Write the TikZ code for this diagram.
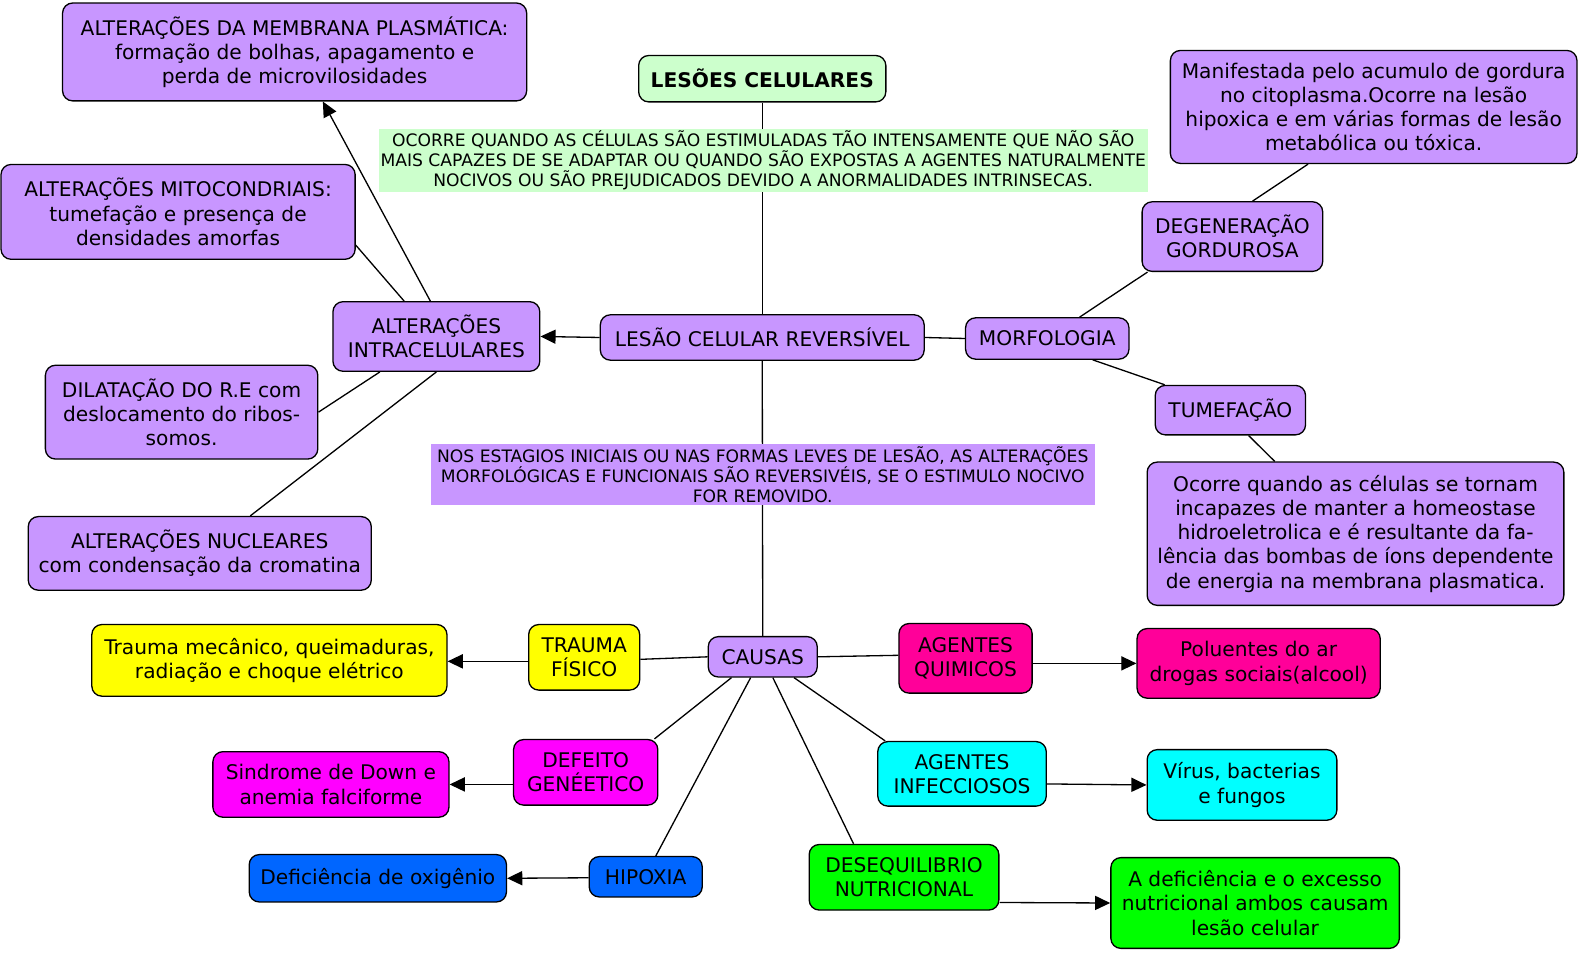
\documentclass[tikz,border=0pt]{standalone}
\usepackage{fontspec}
\setmainfont{DejaVu Sans}
\usepackage{xcolor}
\usepackage{tikz}
\usetikzlibrary{arrows.meta,positioning}

\definecolor{lilas}{HTML}{C896FF}
\definecolor{verdeclaro}{HTML}{CCFFCC}
\definecolor{amarelo}{HTML}{FFFF00}
\definecolor{rosa}{HTML}{FF0099}
\definecolor{magenta}{HTML}{FF00FF}
\definecolor{ciano}{HTML}{00FFFF}
\definecolor{azul}{HTML}{0066FF}
\definecolor{verde}{HTML}{00FF00}
\newcommand{\boxfont}{\fontsize{20}{24}\selectfont}
\newcommand{\notefont}{\fontsize{17}{20}\selectfont}

\begin{document}
\begin{tikzpicture}[x=1pt,y=-1pt,line width=1.3pt,>={Triangle[length=15pt,width=14pt]}]
        \tikzstyle{conc}=[draw=black,line width=1.3pt,rounded corners=10pt,fill=lilas,align=center,inner sep=2pt,font=\boxfont]
        \tikzstyle{nota}=[align=center,inner sep=2pt,font=\notefont]
        \useasboundingbox (0,0) rectangle (1568,944);
        % topo
        \node[conc,fill=verdeclaro,font=\boxfont\bfseries,minimum width=245,minimum height=46] (titulo) at (755.5,78) {LESÕES CELULARES};
        \node[conc,minimum width=321,minimum height=45] (rev) at (755.5,334.5) {LESÃO CELULAR REVERSÍVEL};
        \node[conc,minimum width=108,minimum height=40] (causas) at (756,651) {CAUSAS};
        \draw (titulo.south) -- (rev.north);
        \draw (rev.south) -- (causas.north);
        \node[nota,fill=verdeclaro,minimum width=759,minimum height=62] (nota1) at (756.5,159) {OCORRE QUANDO AS CÉLULAS SÃO ESTIMULADAS TÃO INTENSAMENTE QUE NÃO SÃO\\MAIS CAPAZES DE SE ADAPTAR OU QUANDO SÃO EXPOSTAS A AGENTES NATURALMENTE\\NOCIVOS OU SÃO PREJUDICADOS DEVIDO A ANORMALIDADES INTRINSECAS.};
        \node[nota,fill=lilas,minimum width=658,minimum height=59] (nota2) at (756,470.5) {NOS ESTAGIOS INICIAIS OU NAS FORMAS LEVES DE LESÃO, AS ALTERAÇÕES\\MORFOLÓGICAS E FUNCIONAIS SÃO REVERSIVÉIS, SE O ESTIMULO NOCIVO\\FOR REMOVIDO.};
        % alteracoes
        \node[conc,minimum width=205,minimum height=69] (altintra) at (432.5,333.5) {ALTERAÇÕES\\INTRACELULARES};
        \node[conc,minimum width=460,minimum height=97] (memb) at (292,51.5) {ALTERAÇÕES DA MEMBRANA PLASMÁTICA:\\formação de bolhas, apagamento e\\perda de microvilosidades};
        \node[conc,minimum width=351,minimum height=94] (mito) at (176.5,210) {ALTERAÇÕES MITOCONDRIAIS:\\tumefação e presença de\\densidades amorfas};
        \node[conc,minimum width=270,minimum height=93] (dilat) at (180,408.5) {DILATAÇÃO DO R.E com\\deslocamento do ribos-\\somos.};
        \node[conc,minimum width=340,minimum height=73] (nucl) at (198,548.5) {ALTERAÇÕES NUCLEARES\\com condensação da cromatina};
        % morfologia
        \node[conc,minimum width=162,minimum height=41] (morf) at (1038,335.5) {MORFOLOGIA};
        \node[conc,minimum width=179,minimum height=69] (degord) at (1221.5,234.5) {DEGENERAÇÃO\\GORDUROSA};
        \node[conc,minimum width=403,minimum height=112] (degdesc) at (1361.5,106) {Manifestada pelo acumulo de gordura\\no citoplasma.Ocorre na lesão\\hipoxica e em várias formas de lesão\\metabólica ou tóxica.};
        \node[conc,minimum width=149,minimum height=49] (tumef) at (1219.5,406.5) {TUMEFAÇÃO};
        \node[conc,minimum width=413,minimum height=142] (tumdesc) at (1343.5,529) {Ocorre quando as células se tornam\\incapazes de manter a homeostase\\hidroeletrolica e é resultante da fa-\\lência das bombas de íons dependente\\de energia na membrana plasmatica.};
        % causas
        \node[conc,fill=amarelo,minimum width=110,minimum height=65] (trauma) at (579,651.5) {TRAUMA\\FÍSICO};
        \node[conc,fill=amarelo,minimum width=352,minimum height=71] (traumadesc) at (267,654.5) {Trauma mecânico, queimaduras,\\radiação e choque elétrico};
        \node[conc,fill=rosa,minimum width=132,minimum height=69] (quim) at (957,652.5) {AGENTES\\QUIMICOS};
        \node[conc,fill=rosa,minimum width=241,minimum height=69] (quimdesc) at (1247.5,657.5) {Poluentes do ar\\drogas sociais(alcool)};
        \node[conc,fill=magenta,minimum width=143,minimum height=65] (gen) at (580.5,765.5) {DEFEITO\\GENÉETICO};
        \node[conc,fill=magenta,minimum width=234,minimum height=65] (gendesc) at (328,777.5) {Sindrome de Down e\\anemia falciforme};
        \node[conc,fill=ciano,minimum width=167,minimum height=64] (infec) at (953.5,767) {AGENTES\\INFECCIOSOS};
        \node[conc,fill=ciano,minimum width=188,minimum height=70] (infecdesc) at (1231,778) {Vírus, bacterias\\e fungos};
        \node[conc,fill=azul,minimum width=112,minimum height=40] (hip) at (640,869) {HIPOXIA};
        \node[conc,fill=azul,minimum width=255,minimum height=47] (hipdesc) at (374.5,870.5) {Deficiência de oxigênio};
        \node[conc,fill=verde,minimum width=188,minimum height=65] (nutri) at (896,869.5) {DESEQUILIBRIO\\NUTRICIONAL};
        \node[conc,fill=verde,minimum width=286,minimum height=90] (nutridesc) at (1244,895) {A deficiência e o excesso\\nutricional ambos causam\\lesão celular};
        \path
        (rev.west) edge[->] (altintra.east)
        (rev.east) edge (morf.west)
        ([xshift=-6]altintra.north) edge[->] ([xshift=28]memb.south)
        ([yshift=-33]mito.east) edge ([xshift=-32]altintra.north)
        (dilat.east) edge ([xshift=-56]altintra.south)
        ([xshift=50]nucl.north) edge (altintra.south)
        ([xshift=32]morf.north) edge ([xshift=6]degord.south west)
        ([xshift=20]degord.north) edge ([xshift=-65]degdesc.south)
        ([xshift=45]morf.south) edge ([xshift=10]tumef.north west)
        ([xshift=18]tumef.south) edge ([xshift=-80]tumdesc.north)
        (causas.west) edge ([yshift=-2]trauma.east)
        ([yshift=-4]trauma.west) edge[->] ([yshift=-1]traumadesc.east)
        (causas.east) edge ([yshift=3]quim.west)
        ([yshift=-5]quim.east) edge[->] (quimdesc.west)
        ([xshift=-31]causas.south) edge ([xshift=-4]gen.north east)
        ([yshift=-12]gen.west) edge[->] (gendesc.east)
        ([xshift=-12]causas.south) edge ([xshift=10]hip.north)
        ([yshift=-1]hip.west) edge[->] (hipdesc.east)
        ([xshift=10]causas.south) edge ([xshift=-50]nutri.north)
        ([xshift=31]causas.south) edge ([xshift=8]infec.north west)
        ([yshift=-10]infec.east) edge[->] (infecdesc.west)
        ([yshift=-25]nutri.east) edge[->] (nutridesc.west);
\end{tikzpicture}
\end{document}
